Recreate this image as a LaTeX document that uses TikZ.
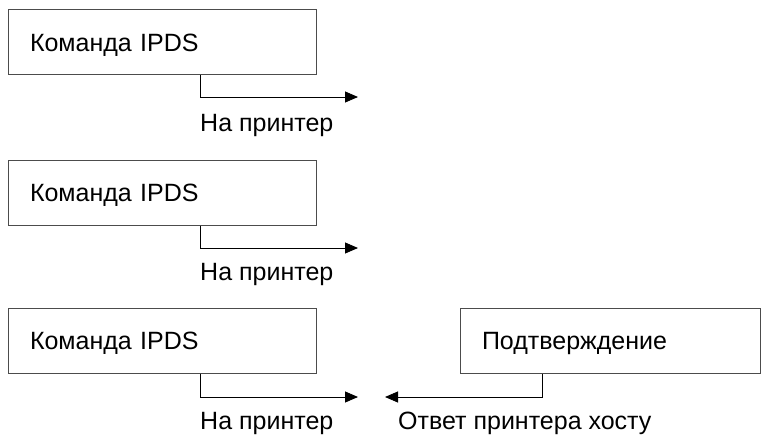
\documentclass[tikz,border=0pt]{standalone}
\usepackage{fontspec}
\setmainfont{Liberation Sans}
\usepackage{tikz}
\usetikzlibrary{arrows.meta,positioning}
\tikzset{
    cmdbox/.style={draw=black!70, line width=1pt, minimum width=308pt, minimum height=65pt,
        inner xsep=22pt, text width=264pt, text height=18pt, text depth=0pt, align=left,
        font=\fontsize{25}{28}\selectfont},
    lbl/.style={inner sep=0pt, anchor=base west, font=\fontsize{25}{28}\selectfont},
    flow/.style={line width=0.9pt, -{Triangle[length=13pt,width=11pt]}}
}

\begin{document}
\begin{tikzpicture}[x=1pt,y=-1pt]
    \useasboundingbox (0,0) rectangle (763,436);

    \node[cmdbox] (c1) at (162,42.5) {Команда IPDS};
    \node[lbl] (l1) at (200,131) {На принтер};
    \coordinate (t1) at (358,97);
    \draw[flow] (c1.south -| l1.west) |- (t1);

    \node[cmdbox] (c2) at (162,192.5) {Команда IPDS};
    \node[lbl] (l2) at (200,280) {На принтер};
    \coordinate (t2) at (358,248);
    \draw[flow] (c2.south -| l2.west) |- (t2);

    \node[cmdbox] (c3) at (162,340.5) {Команда IPDS};
    \node[lbl] (l3) at (200,429) {На принтер};
    \coordinate (t3) at (358,397);
    \draw[flow] (c3.south -| l3.west) |- (t3);

    \node[cmdbox, minimum width=300pt, text width=256pt] (ack) at (610,340.5) {Подтверждение};
    \node[lbl] (l4) at (398,429) {Ответ принтера хосту};
    \coordinate (t4) at (385,397);
    \coordinate (a4) at (542,0);
    \draw[flow] (ack.south -| a4) |- (t4);
\end{tikzpicture}
\end{document}
